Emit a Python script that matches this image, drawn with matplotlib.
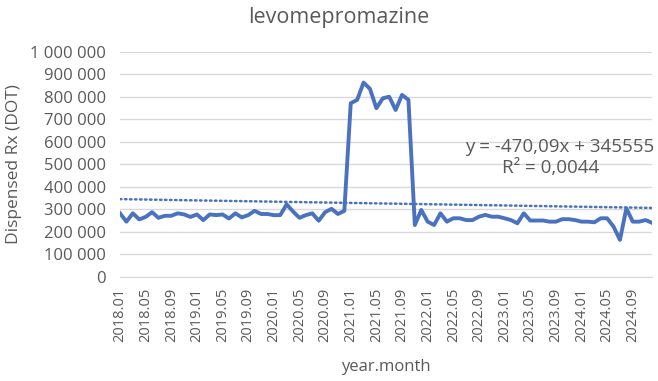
import matplotlib
matplotlib.use("Agg")
import matplotlib.pyplot as plt
import numpy as np
from matplotlib.ticker import FuncFormatter, MultipleLocator

title = "levomepromazine"
x_label = "year.month"
y_label = "Dispensed Rx (DOT)"

months = [f"{y}.{m:02d}" for y in range(2018, 2025) for m in range(1, 13)]

values_k = [
    282, 245, 282, 255, 266, 287, 262, 271, 271, 282, 277, 266,
    277, 252, 277, 274, 277, 259, 282, 264, 274, 293, 279, 279,
    274, 274, 322, 290, 262, 274, 282, 249, 287, 302, 279, 293,
    771, 786, 863, 835, 749, 793, 800, 741, 808, 786, 230, 297,
    245, 230, 282, 245, 260, 260, 252, 252, 267, 275, 267, 267,
    260, 252, 238, 282, 250, 250, 250, 245, 245, 256, 256, 252,
    245, 245, 242, 260, 260, 223, 164, 304, 245, 245, 252, 240,
]
values = [v * 1000 for v in values_k]

trend_slope = -470.09
trend_intercept = 345555
eq_text = "y = -470,09x + 345555"
r2_text = "R² = 0,0044"

tick_step = 4

plt.rcParams['font.family'] = ['Open Sans', 'DejaVu Sans']
text_color = "#595959"
line_color = "#4A72BE"

fig = plt.figure(figsize=(6.58, 3.81), dpi=100)
ax = fig.add_axes([120 / 658, 1 - 276.8 / 381, 532 / 658, (276.8 - 51.7) / 381])

idx = np.arange(len(values))
ax.plot(idx, values, color=line_color, lw=2.8, solid_joinstyle="round", zorder=3)
trend = trend_slope * (idx + 1) + trend_intercept
ax.plot(idx, trend, color=line_color, lw=1.8, linestyle=(0, (0.6, 1.4)), dash_capstyle="round", zorder=2)

ax.set_xlim(0, len(values) - 1)
ax.set_ylim(0, 1_000_000)
ax.yaxis.set_major_locator(MultipleLocator(100_000))
ax.yaxis.set_major_formatter(FuncFormatter(lambda v, p: f"{int(v):,}".replace(",", " ")))
ax.set_xticks(idx[::tick_step])
ax.set_xticklabels([months[i] for i in idx[::tick_step]], rotation=90)
ax.grid(axis="y", color="#D9D9D9", lw=1)
ax.set_axisbelow(True)
for s in ["top", "right", "left"]:
    ax.spines[s].set_visible(False)
ax.spines["bottom"].set_color("#D9D9D9")
ax.tick_params(axis="y", length=0, labelsize=12, colors=text_color, pad=10)
ax.tick_params(axis="x", length=0, labelsize=10.5, colors=text_color, pad=8)

fig.text(0.515, 0.955, title, fontsize=15.5, color=text_color, ha="center", va="center")
ax.set_xlabel(x_label, fontsize=12, color=text_color, labelpad=12)
ax.set_ylabel(y_label, fontsize=12.5, color=text_color, labelpad=6)

ax.text(1.005, 0.575, eq_text, transform=ax.transAxes, ha="right", va="center", fontsize=13.5, color=text_color)
ax.text(0.81, 0.485, r2_text, transform=ax.transAxes, ha="center", va="center", fontsize=13.5, color=text_color)

fig.savefig("out.png", dpi=100)
